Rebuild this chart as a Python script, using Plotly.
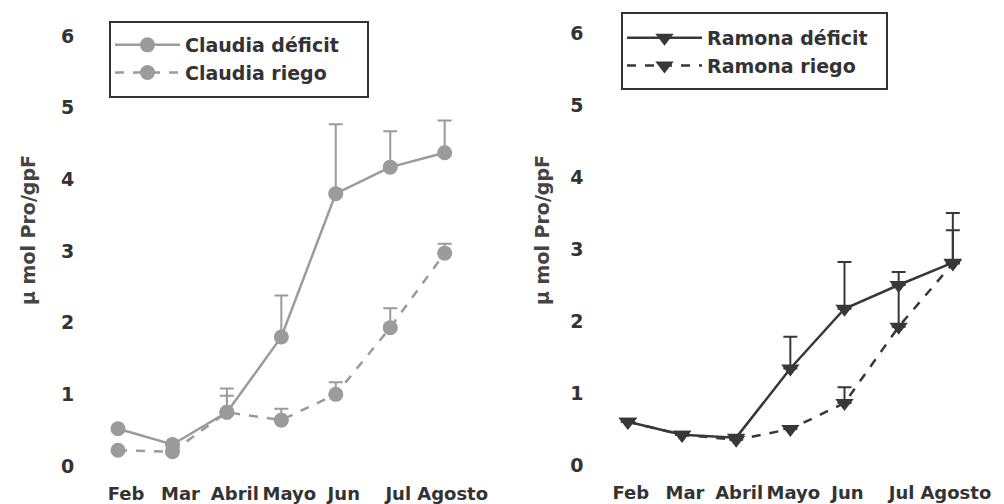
import plotly.graph_objects as go

months = ["Feb", "Mar", "Abril", "Mayo", "Jun", "Jul", "Agosto"]
xpos = [0, 1, 2, 3, 4, 5, 6]

claudia_deficit = [0.52, 0.30, 0.75, 1.80, 3.80, 4.17, 4.37]
claudia_deficit_err = [0, 0, 0.33, 0.58, 0.97, 0.50, 0.45]
claudia_riego = [0.22, 0.20, 0.75, 0.64, 1.00, 1.93, 2.97]
claudia_riego_err = [0, 0, 0.23, 0.16, 0.17, 0.27, 0.13]

ramona_deficit = [0.60, 0.42, 0.38, 1.34, 2.17, 2.50, 2.81]
ramona_deficit_err = [0, 0, 0, 0.44, 0.65, 0, 0.69]
ramona_riego = [0.60, 0.42, 0.35, 0.50, 0.86, 1.92, 2.80]
ramona_riego_err = [0, 0, 0, 0, 0.22, 0.76, 0.46]

yticks = [0, 1, 2, 3, 4, 5, 6]

GRAY = "#9b9b9b"
DARK = "#383838"
FONT = "DejaVu Sans"
W, H = 1004, 504

fig = go.Figure()


def add(y, err, name, color, dash, symbol, size, xa, ya, legend):
    fig.add_trace(go.Scatter(
        x=xpos, y=y, name=name, mode="lines+markers",
        line=dict(color=color, width=2.5, dash=dash),
        marker=dict(symbol=symbol, size=size, color=color),
        error_y=dict(type="data", symmetric=False, array=err,
                     arrayminus=[0] * len(err), color=color,
                     thickness=2, width=7),
        xaxis=xa, yaxis=ya, legend=legend, cliponaxis=False,
    ))


add(claudia_deficit, claudia_deficit_err, "Claudia déficit", GRAY, "solid", "circle", 15, "x", "y", "legend")
add(claudia_riego, claudia_riego_err, "Claudia riego", GRAY, "dash", "circle", 15, "x", "y", "legend")
add(ramona_deficit, ramona_deficit_err, "Ramona déficit", DARK, "solid", "triangle-down", 16, "x2", "y2", "legend2")
add(ramona_riego, ramona_riego_err, "Ramona riego", DARK, "dash", "triangle-down", 16, "x2", "y2", "legend2")

tickfont = dict(family=FONT, size=19, color="#333333", weight="bold")
xtickfont = dict(family=FONT, size=18, color="#333333", weight="bold")
xcommon = dict(range=[-0.6, 6.5], tickmode="array", tickvals=xpos, ticktext=months,
               showgrid=False, zeroline=False, showline=False, ticks="",
               tickfont=xtickfont, ticklabelstandoff=15,
               tickangle=0, automargin=False)
ycommon = dict(range=[0, 6], tickmode="array", tickvals=yticks,
               showgrid=False, zeroline=False, showline=False, ticks="",
               tickfont=tickfont, automargin=False)

legfont = dict(family=FONT, size=19, color="#333333", weight="bold")


def box(x0, y0, x1, y1):
    return dict(type="rect", xref="paper", yref="paper",
                x0=x0 / W, x1=x1 / W, y0=1 - y1 / H, y1=1 - y0 / H,
                line=dict(color="#333333", width=2), fillcolor="white", layer="above")


fig.update_layout(
    width=W, height=H,
    margin=dict(l=0, r=0, t=0, b=0),
    paper_bgcolor="white", plot_bgcolor="white",
    showlegend=True,
    xaxis=dict(domain=[0.085, 0.470], anchor="y", ticklabelshift=8, **xcommon),
    yaxis=dict(domain=[0.0754, 0.9286], anchor="x", ticklabelstandoff=10, **ycommon),
    xaxis2=dict(domain=[0.593, 0.976], anchor="y2", ticklabelshift=3, **xcommon),
    yaxis2=dict(domain=[0.0774, 0.9345], anchor="x2", ticklabelstandoff=11, **ycommon),
    shapes=[box(110, 22, 368, 97), box(622, 13, 887, 89)],
    legend=dict(x=110 / W, y=1 - 26 / H, xanchor="left", yanchor="top",
                borderwidth=0, bgcolor="rgba(0,0,0,0)",
                font=legfont, itemwidth=65, tracegroupgap=0),
    legend2=dict(x=622 / W, y=1 - 19 / H, xanchor="left", yanchor="top",
                 borderwidth=0, bgcolor="rgba(0,0,0,0)",
                 font=legfont, itemwidth=75, tracegroupgap=0),
    annotations=[
        dict(text="μ mol Pro/gpF", x=28 / W, y=1 - 230 / H, xref="paper", yref="paper",
             xanchor="center", yanchor="middle",
             textangle=-90, showarrow=False, font=dict(family=FONT, size=19, color="#444444", weight="bold")),
        dict(text="μ mol Pro/gpF", x=542 / W, y=1 - 230 / H, xref="paper", yref="paper",
             xanchor="center", yanchor="middle",
             textangle=-90, showarrow=False, font=dict(family=FONT, size=19, color="#444444", weight="bold")),
    ],
)

fig.write_html("out.html", config={"displayModeBar": False},
               post_script="document.body.style.margin='0px';")
